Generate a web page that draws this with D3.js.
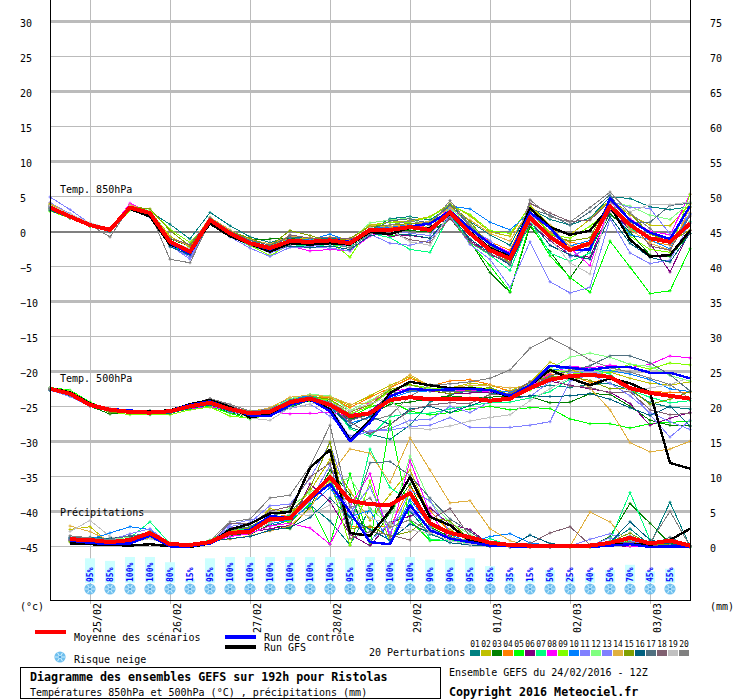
<!DOCTYPE html>
<html><head><meta charset="utf-8">
<script src="https://cdn.jsdelivr.net/npm/d3@7/dist/d3.min.js"></script>
<style>
html,body{margin:0;padding:0;background:#fff}
svg{display:block}
text{font-family:"DejaVu Sans Mono",monospace;font-size:10px;fill:#000}
.line{fill:none;stroke-linejoin:round}
</style></head><body>
<svg id="c" width="740" height="700"></svg>
<script>
const memberColors=["#008080","#c0c000","#008000","#ff8000","#00ff00","#800080","#00ff80","#ff00ff","#80ff00","#0080ff","#8080ff","#80ff80","#8080ff","#e0b040","#80a000","#006080","#507080","#806070","#c0c0c0","#808080"];
const memberLabels=["01","02","03","04","05","06","07","08","09","10","11","12","13","14","15","16","17","18","19","20"];
const dateLabels=["25/02","26/02","27/02","28/02","29/02","01/03","02/03","03/03"];
const leftTicks=[30,25,20,15,10,5,0,-5,-10,-15,-20,-25,-30,-35,-40,-45];
const snowPct=[95,85,100,100,80,15,95,100,100,100,100,100,100,95,100,100,100,90,90,95,65,35,15,50,25,40,50,70,45,55];

const t850_01=[3.8,2.4,1.1,0.2,3.4,2.9,1.1,-1.0,2.8,0.9,-0.7,-1.5,-0.7,-0.9,-0.9,-1.2,0.2,1.9,2.2,1.7,3.7,1.5,-0.4,-1.9,3.4,1.8,1.0,2.0,5.0,4.8,3.6,3.2,3.6];
const t850_02=[4.0,2.5,1.2,0.3,3.7,3.0,-0.6,-2.2,2.0,0.1,-1.2,-1.9,-0.9,-1.0,-0.7,-1.0,1.0,1.4,1.6,2.2,4.0,2.3,0.0,-0.6,3.8,0.9,-0.4,1.8,4.6,2.4,1.0,0.9,4.0];
const t850_03=[3.4,2.1,0.9,0.1,3.3,2.5,-1.0,-2.0,1.9,-0.1,-1.0,-1.0,-0.9,-1.3,-1.2,-1.5,0.2,0.5,0.2,0.0,1.9,-1.3,-5.8,-8.6,0.8,-2.8,-6.6,-2.5,2.6,0.0,-3.3,-3.5,-0.2];
const t850_04=[3.3,2.2,1.0,0.3,3.6,2.6,-1.7,-3.2,1.5,-0.4,-1.7,-2.5,-1.5,-1.3,-1.4,-1.7,0.5,0.6,1.0,0.6,3.2,0.7,-1.4,-2.6,3.0,-0.1,-1.5,-1.8,3.8,1.2,-1.3,-1.9,2.7];
const t850_05=[3.0,2.0,0.8,0.2,3.2,2.4,-1.9,-3.0,1.2,-0.6,-1.9,-2.6,-1.8,-1.7,-1.6,-2.0,0.0,-0.5,-0.4,-0.9,2.0,-1.6,-4.8,-8.5,1.2,-3.4,-6.5,-8.6,-1.3,-5.0,-8.8,-8.4,-2.4];
const t850_06=[3.7,2.3,1.1,0.4,3.5,2.7,-1.3,-2.6,1.6,-0.3,-1.5,-2.2,-1.0,-1.2,-1.0,-1.3,0.5,-0.6,-0.5,-0.9,2.2,-1.2,-3.2,-4.5,1.2,-1.2,-3.3,-3.6,3.1,0.4,-1.6,-5.7,0.2];
const t850_07=[3.2,2.0,0.9,0.2,3.3,2.6,-1.6,-3.0,1.4,-0.5,-2.0,-2.8,-1.8,-2.0,-1.8,-2.2,-0.2,-0.8,-2.5,-2.9,2.5,-1.5,-3.3,-5.5,1.6,-3.0,-4.2,-3.0,4.5,0.5,-0.8,-1.6,1.5];
const t850_08=[3.6,2.4,1.2,0.3,4.1,2.8,-1.2,-2.6,1.9,0.0,-1.4,-2.2,-2.0,-2.7,-2.5,-2.7,-0.6,0.5,0.9,0.6,3.5,1.0,-1.6,-2.9,2.4,-0.4,-2.3,-4.8,4.2,1.9,0.1,-0.4,5.4];
const t850_09=[3.0,2.0,0.9,0.1,3.1,3.1,0.4,-1.5,1.4,-0.6,-1.9,-3.4,-1.7,-1.0,-1.3,-3.6,0.8,1.4,1.4,2.1,3.9,2.5,0.2,-0.2,3.6,-0.3,-0.9,0.8,3.4,-0.6,-2.5,-2.9,5.4];
const t850_10=[3.5,2.1,1.0,0.2,3.4,2.6,-1.8,-3.6,1.6,-0.2,-1.6,-2.3,-1.0,-1.1,-0.3,-1.4,0.5,0.7,1.1,1.5,3.7,3.3,1.4,0.3,2.8,0.5,-2.0,-1.2,3.6,-0.4,-1.1,-2.4,2.6];
const t850_11=[5.0,3.2,1.2,0.2,3.2,2.1,-1.9,-3.9,1.3,-0.7,-2.3,-3.5,-2.2,-2.2,-2.3,-2.7,-0.3,-1.6,-1.9,-1.2,2.3,-1.8,-3.9,-7.9,-1.4,-7.1,-8.7,-7.9,1.9,-3.0,-4.5,-4.0,1.3];
const t850_12=[3.6,2.5,1.0,0.1,3.4,3.1,-0.9,-1.9,1.6,0.0,-1.4,-2.7,-1.4,-1.6,-1.0,-1.2,1.3,1.7,2.0,0.5,3.4,1.1,-1.9,-3.3,1.9,-0.7,-2.6,-1.9,4.3,3.7,2.4,1.8,4.2];
const t850_13=[4.2,2.6,1.3,0.4,3.8,2.6,-2.0,-3.6,1.4,-0.2,-1.8,-3.0,-2.0,-2.1,-1.6,-2.0,0.4,0.3,-0.2,-0.5,3.3,0.5,-1.2,-3.9,2.4,0.6,-3.6,-2.2,4.4,3.5,3.4,-0.3,2.5];
const t850_14=[4.1,2.5,1.2,0.4,3.9,2.9,-0.9,-2.0,2.1,0.3,-1.1,-1.7,-0.6,-0.8,-1.2,-1.1,0.9,0.8,1.2,1.5,3.5,1.7,-0.2,-1.3,3.3,1.0,-2.1,-2.0,3.9,0.4,-1.6,-2.6,3.5];
const t850_15=[3.9,2.3,1.1,0.3,3.6,3.3,0.2,-2.0,1.8,0.1,-0.9,-2.0,0.2,-0.5,-1.4,-0.9,0.8,1.0,1.2,1.3,4.0,1.5,-2.0,-4.4,3.1,-0.4,-1.3,-0.8,4.6,2.7,-0.3,-1.4,0.3];
const t850_16=[3.1,2.0,0.9,0.0,3.4,2.5,-2.1,-3.3,1.3,-0.5,-1.5,-2.6,-2.0,-2.2,-2.0,-2.5,-0.5,-0.2,-0.4,-0.9,2.5,-1.0,-3.0,-4.7,1.7,-1.9,-3.3,-3.9,2.2,-1.6,-3.6,-4.3,-0.2];
const t850_17=[3.4,2.2,1.0,0.2,3.5,2.7,-1.5,-3.0,2.0,0.1,-1.2,-1.9,-0.7,-1.3,-1.1,-1.5,0.1,1.6,1.9,1.2,3.9,0.9,-1.8,-3.9,3.3,2.4,1.0,2.9,5.3,1.4,1.4,3.8,4.1];
const t850_18=[3.6,2.3,1.0,0.1,3.5,2.5,-0.9,-1.8,1.8,-0.1,-1.5,-2.6,-0.4,-0.9,-0.8,-1.0,-0.2,0.0,-1.1,-1.5,2.0,-1.5,-3.1,-4.4,4.1,2.7,1.5,1.7,4.4,1.8,-2.0,-2.6,2.3];
const t850_19=[3.8,2.6,1.3,0.5,3.7,2.8,-1.3,-2.4,1.7,-0.1,-1.6,-2.3,-1.6,-1.2,-1.4,-1.9,0.6,0.4,-1.4,-1.9,2.9,0.3,-2.2,-3.7,1.5,-0.9,-4.4,-6.0,4.0,2.9,3.9,3.9,4.3];
const t850_20=[3.3,2.1,1.0,-0.7,3.5,2.7,-3.9,-4.4,1.5,-0.6,-1.9,-2.9,-1.8,-1.7,-1.5,-2.3,-0.2,1.0,1.6,0.9,4.5,1.0,-2.7,-4.5,4.6,2.2,1.4,3.5,5.7,2.7,0.5,-1.8,1.3];
const t850_ctrl=[3.6,2.3,1.0,0.3,3.6,2.6,-1.6,-3.1,1.6,-0.3,-1.7,-2.5,-1.2,-1.3,-1.1,-1.4,0.3,0.4,0.8,1.2,3.0,0.5,-1.7,-3.2,2.8,0.6,-2.6,-2.5,4.8,1.7,-0.1,-1.0,3.7];
const t850_gfs=[3.4,2.2,1.0,0.3,3.3,2.2,-1.8,-2.7,1.2,-0.6,-1.7,-2.8,-1.6,-1.8,-1.6,-1.8,0.0,-0.3,0.6,0.6,2.6,0.0,-2.3,-3.5,3.4,0.7,-0.4,0.2,3.7,-1.1,-3.5,-3.3,0.2];
const t850_mean=[3.5,2.2,1.0,0.3,3.5,2.7,-1.4,-2.8,1.7,-0.2,-1.6,-2.3,-1.3,-1.4,-1.2,-1.6,0.3,0.3,0.7,0.3,2.8,-0.2,-2.6,-3.8,2.1,-0.7,-2.6,-1.6,3.7,1.0,-0.9,-1.4,1.2];

const t500_01=[-22.5,-23.3,-24.8,-25.6,-25.6,-25.5,-25.8,-25.1,-24.6,-25.6,-26.2,-25.8,-24.6,-23.4,-25.0,-27.9,-28.9,-29.6,-27.6,-24.3,-23.3,-22.6,-23.0,-23.2,-22.4,-21.9,-22.2,-21.8,-21.6,-22.6,-24.4,-25.0,-25.3];
const t500_02=[-22.3,-22.9,-24.6,-25.3,-25.6,-25.7,-25.5,-24.7,-24.1,-25.0,-25.6,-25.2,-23.9,-23.3,-23.6,-24.8,-23.4,-21.9,-20.7,-21.9,-22.3,-21.6,-21.9,-22.7,-21.5,-18.6,-19.7,-20.4,-20.0,-20.9,-21.6,-21.9,-21.4];
const t500_03=[-22.6,-23.4,-24.9,-26.0,-25.8,-25.9,-25.9,-25.1,-24.7,-25.8,-26.4,-26.0,-24.9,-23.6,-24.2,-26.7,-26.1,-24.6,-24.3,-23.8,-23.4,-23.7,-23.6,-23.4,-23.5,-24.4,-24.3,-23.1,-23.2,-24.9,-26.9,-27.6,-27.7];
const t500_04=[-22.4,-23.2,-24.7,-25.4,-25.5,-25.6,-25.6,-24.7,-24.2,-25.1,-25.8,-25.3,-24.1,-23.6,-23.7,-25.1,-23.6,-22.3,-20.9,-22.0,-21.3,-21.1,-21.8,-22.8,-21.9,-20.4,-20.4,-21.5,-21.0,-22.2,-22.8,-22.9,-22.9];
const t500_05=[-22.2,-22.6,-24.3,-25.5,-25.9,-26.1,-25.7,-25.3,-24.9,-25.9,-26.7,-26.0,-24.9,-24.1,-24.6,-26.4,-25.0,-24.2,-25.6,-26.1,-25.8,-25.3,-24.9,-25.4,-25.1,-25.2,-26.7,-27.4,-27.4,-28.0,-27.4,-27.2,-27.0];
const t500_06=[-22.5,-23.2,-24.8,-25.6,-25.8,-25.8,-25.6,-24.8,-24.4,-25.3,-26.0,-25.7,-24.0,-23.6,-24.5,-27.0,-25.6,-23.3,-22.6,-22.7,-23.1,-23.0,-22.9,-23.2,-21.9,-21.3,-21.9,-22.4,-22.9,-24.5,-27.6,-26.6,-25.8];
const t500_07=[-22.3,-23.1,-24.6,-25.5,-25.9,-25.9,-25.8,-24.9,-24.6,-25.6,-26.3,-25.8,-24.3,-23.2,-24.3,-28.1,-29.2,-26.4,-25.9,-25.9,-25.3,-24.8,-24.4,-24.3,-23.7,-22.8,-21.0,-19.5,-20.3,-22.6,-23.6,-24.4,-24.1];
const t500_08=[-22.4,-23.0,-24.5,-25.3,-25.6,-25.7,-25.5,-25.2,-25.0,-25.4,-25.8,-25.7,-26.0,-25.9,-25.8,-26.3,-24.3,-22.9,-22.3,-22.5,-22.7,-22.6,-22.8,-23.4,-22.1,-20.2,-19.2,-19.4,-19.0,-19.4,-18.9,-17.7,-18.0];
const t500_09=[-22.2,-22.7,-24.4,-25.7,-26.1,-26.0,-26.1,-25.4,-25.0,-26.3,-26.6,-26.2,-24.7,-23.7,-24.0,-26.0,-24.9,-22.7,-21.8,-22.3,-22.5,-22.1,-22.4,-23.5,-22.6,-19.6,-20.1,-20.4,-20.0,-18.9,-19.6,-18.7,-19.0];
const t500_10=[-22.5,-23.2,-24.7,-25.5,-25.7,-25.8,-25.7,-25.0,-24.5,-25.2,-25.9,-25.3,-23.8,-23.4,-24.9,-27.3,-26.5,-23.8,-22.8,-22.7,-22.2,-22.3,-22.5,-22.9,-21.7,-19.8,-19.3,-19.6,-19.8,-20.3,-21.1,-22.4,-22.8];
const t500_11=[-22.6,-23.5,-24.9,-25.5,-25.7,-25.9,-25.7,-25.1,-24.7,-25.7,-26.3,-26.2,-25.2,-24.6,-26.3,-29.1,-28.5,-28.3,-27.8,-27.6,-26.5,-27.9,-27.9,-27.9,-27.6,-27.1,-21.3,-20.4,-21.6,-23.4,-25.8,-27.1,-28.2];
const t500_12=[-22.3,-22.8,-24.5,-25.4,-25.6,-25.8,-25.6,-24.8,-24.1,-25.2,-25.9,-25.4,-23.8,-23.2,-23.4,-25.5,-24.1,-22.5,-21.9,-22.4,-22.7,-22.3,-22.7,-23.2,-21.8,-19.5,-17.9,-17.3,-17.9,-18.9,-19.2,-20.5,-21.3];
const t500_13=[-22.4,-23.0,-24.7,-25.4,-25.8,-25.9,-25.7,-25.0,-24.4,-25.3,-26.1,-25.5,-24.4,-23.9,-24.9,-29.4,-28.4,-28.1,-26.9,-26.8,-24.9,-25.8,-24.2,-23.7,-23.5,-21.4,-20.1,-19.9,-20.6,-22.5,-26.1,-29.3,-26.9];
const t500_14=[-22.5,-23.1,-24.7,-25.3,-25.5,-25.7,-25.5,-24.6,-24.0,-25.2,-25.7,-25.1,-23.6,-23.3,-23.5,-24.6,-24.4,-22.2,-20.4,-22.0,-22.3,-21.9,-21.9,-22.3,-21.9,-20.0,-20.4,-22.3,-25.4,-30.1,-31.4,-31.0,-29.9];
const t500_15=[-22.4,-23.0,-24.6,-25.8,-25.7,-25.8,-25.9,-25.0,-24.6,-25.4,-26.1,-25.9,-24.2,-23.5,-23.9,-25.7,-24.7,-22.5,-21.8,-22.6,-23.1,-22.6,-22.2,-23.3,-21.4,-20.7,-20.7,-21.2,-22.4,-22.4,-24.6,-23.9,-22.8];
const t500_16=[-22.6,-23.3,-24.8,-25.6,-25.9,-26.0,-25.9,-25.2,-24.7,-25.6,-26.3,-26.0,-25.1,-24.0,-24.7,-27.7,-26.3,-27.5,-25.3,-24.9,-25.8,-24.8,-23.9,-23.8,-23.4,-23.5,-23.4,-23.1,-23.9,-25.1,-26.2,-24.9,-27.7];
const t500_17=[-22.3,-23.1,-24.6,-25.4,-25.7,-25.7,-25.6,-24.8,-24.3,-25.1,-25.9,-25.5,-24.0,-23.5,-24.4,-26.9,-26.1,-23.0,-22.7,-22.6,-22.8,-22.8,-22.5,-23.4,-22.2,-20.6,-19.8,-19.1,-17.7,-17.7,-18.7,-20.4,-22.7];
const t500_18=[-22.5,-23.2,-24.8,-25.5,-25.7,-25.8,-25.6,-24.7,-23.8,-24.8,-25.8,-25.5,-24.4,-24.0,-24.8,-27.2,-28.8,-27.5,-25.5,-24.7,-24.4,-24.5,-23.2,-23.1,-21.4,-20.9,-22.0,-22.2,-23.0,-22.8,-25.4,-26.1,-25.9];
const t500_19=[-22.2,-22.9,-24.6,-25.3,-25.5,-25.7,-25.5,-25.0,-24.4,-25.4,-26.6,-26.9,-25.1,-24.6,-24.3,-25.6,-24.5,-23.6,-28.0,-28.2,-27.7,-27.0,-26.5,-26.1,-24.1,-22.4,-20.8,-20.3,-20.9,-22.7,-22.3,-21.8,-20.8];
const t500_20=[-22.4,-23.0,-24.7,-25.6,-25.7,-25.8,-25.7,-24.8,-23.8,-24.6,-25.6,-25.3,-24.2,-23.7,-24.3,-26.0,-27.0,-26.2,-23.5,-21.8,-21.7,-21.4,-20.9,-19.7,-16.6,-15.1,-16.6,-18.3,-19.4,-20.0,-20.9,-21.8,-23.8];
const t500_ctrl=[-22.4,-23.0,-24.6,-25.3,-25.5,-25.7,-25.5,-24.7,-24.2,-25.2,-26.2,-26.3,-24.7,-23.9,-25.6,-29.9,-27.2,-23.5,-22.4,-22.6,-22.5,-22.4,-22.6,-23.4,-21.9,-19.1,-19.4,-19.7,-19.3,-19.3,-20.1,-20.1,-20.9];
const t500_gfs=[-22.3,-22.9,-24.5,-25.4,-25.6,-25.6,-25.5,-24.6,-24.0,-25.0,-26.5,-26.0,-24.5,-24.0,-25.3,-29.7,-26.9,-23.0,-21.4,-21.9,-22.3,-22.3,-22.6,-23.6,-21.9,-19.7,-20.9,-21.9,-20.9,-21.6,-22.9,-33.0,-33.8];
const t500_mean=[-22.4,-23.1,-24.7,-25.4,-25.7,-25.8,-25.6,-24.9,-24.4,-25.3,-25.9,-25.7,-24.3,-23.8,-24.7,-26.3,-25.9,-24.0,-23.6,-23.9,-23.9,-23.8,-24.1,-23.8,-22.3,-21.1,-20.6,-20.4,-20.7,-22.3,-23.0,-23.4,-23.8];

const rain_01=[1.1,1.4,1.2,1.6,1.8,.4,.1,.6,1.9,2.0,3.0,3.8,6.0,3.7,.3,5.5,3.1,5.1,1.8,.9,.7,.1,0,.1,0,.1,0,.8,2.6,.3,6.4,.1];
const rain_02=[2.5,2.9,.5,.7,1.3,.4,.2,.8,2.3,2.5,5.5,4.9,8.0,12.5,8.0,3.8,7.5,11.0,4.5,2.5,.8,.3,.1,0,.1,0,.3,.4,.9,.6,1.1,.1];
const rain_03=[1.0,.9,.6,.9,2.0,.5,.3,.6,1.7,1.8,3.2,2.6,5.8,11.0,7.5,.6,4.9,9.0,2.8,1.5,.6,.2,.1,.1,0,.1,.1,1.5,6.2,3.4,.5,.1];
const rain_04=[1.2,.8,.7,1.1,2.3,.3,.1,.7,2.2,2.4,4.2,4.6,7.3,9.2,3.0,2.8,2.9,8.6,5.2,2.2,.9,.4,.1,.1,.1,.1,.2,.6,.8,.3,.4,.1];
const rain_05=[1.0,1.2,.8,1.2,2.1,.5,.3,.8,2.4,2.8,4.0,3.5,6.2,.4,10.5,.3,18.0,3.8,.9,1.0,.5,.2,0,0,0,.1,0,.3,.9,.4,.1,0];
const rain_06=[.9,.8,.7,1.0,1.8,.4,.1,.5,2.8,2.1,2.6,3.1,9.0,6.5,1.8,.2,3.5,4.4,5.6,3.2,2.5,.3,.1,0,0,.1,.1,.2,.1,.2,.2,0];
const rain_07=[1.2,.9,.7,1.3,3.6,.5,.2,1.0,2.7,2.4,3.6,4.6,6.8,10.3,2.0,14.0,8.5,6.5,1.1,.9,.6,1.2,.2,.1,0,.1,.2,.9,7.8,1.0,.2,0];
const rain_08=[1.1,1.0,.8,.8,1.7,.3,.2,.6,1.5,1.9,3.0,3.4,2.7,.4,5.8,10.5,1.3,12.4,4.8,1.1,.7,.2,0,0,0,0,.2,.3,.1,.2,.1,.1];
const rain_09=[.8,.6,.9,1.0,1.9,.6,.4,.9,2.6,2.2,4.5,3.6,7.5,9.5,.2,9.5,.5,7.9,3.0,1.8,.5,.3,.1,0,.1,0,.1,.5,1.4,.2,.7,0];
const rain_10=[1.4,1.1,2.0,2.9,2.5,.3,.2,.7,2.0,2.3,3.3,3.9,5.9,8.5,4.3,5.2,.6,6.8,3.1,1.8,.6,1.5,1.9,.6,.2,.1,.1,.6,1.2,.3,.3,.1];
const rain_11=[1.0,.7,1.0,1.9,2.6,.4,.1,.6,2.9,3.5,5.9,6.1,9.8,14.8,6.0,.9,3.4,5.3,2.7,1.3,.5,.1,0,0,0,.1,.2,1.3,.4,.1,.2,0];
const rain_12=[1.3,1.1,1.0,1.4,2.2,.5,.2,.5,1.9,2.6,3.9,5.6,7.9,8.8,9.9,5.4,3.2,13.0,6.5,3.5,1.8,.4,.1,.1,0,0,.1,.4,1.0,.1,.1,0];
const rain_13=[1.2,.9,.6,1.1,1.8,.4,.1,.6,3.2,3.9,4.3,4.0,6.5,11.7,4.9,8.6,2.0,8.1,6.6,2.1,1.2,.3,.1,.1,0,.1,1.1,1.9,.8,.5,.2,.1];
const rain_14=[3.0,2.2,.9,.8,1.5,.4,.2,.9,1.1,1.6,2.3,3.0,5.5,10.2,14.0,13.4,9.2,15.6,11.0,6.3,6.6,2.6,.9,.1,.1,.1,5.0,3.6,.2,.3,.2,.1];
const rain_15=[.7,.5,.8,1.0,1.6,.3,.2,.5,2.5,2.7,3.7,4.4,8.4,15.0,2.6,3.0,1.5,2.2,4.2,3.7,1.0,.3,.1,.1,.1,0,.2,.7,2.0,.3,.3,.1];
const rain_16=[1.3,1.0,1.3,1.5,2.0,.4,.2,.8,1.2,1.5,2.4,2.8,4.2,7.0,4.2,2.5,1.0,3.3,2.0,.6,.3,.1,.1,1.7,.5,.2,.1,.6,3.6,1.0,.4,.1];
const rain_17=[1.4,1.3,1.1,1.6,1.9,.5,.3,.7,2.4,2.9,4.4,5.2,7.2,9.7,3.3,12.0,12.2,10.2,7.0,4.0,2.2,.3,.1,.1,.2,.1,.1,.5,.7,.2,1.4,.1];
const rain_18=[1.0,.9,.6,1.2,2.2,.4,.1,.6,3.4,3.3,5.1,5.8,10.0,12.0,1.2,2.2,1.7,1.0,3.9,5.5,1.5,.6,.1,.5,2.0,2.9,.3,.4,.6,.2,.2,.1];
const rain_19=[2.2,3.8,1.5,.6,1.2,.3,.2,.7,1.8,2.1,3.4,4.8,4.5,6.0,7.0,4.1,3.3,2.4,2.0,.9,.4,.3,.1,.1,.1,.1,.1,.3,.4,.1,.2,0];
const rain_20=[1.6,1.3,1.0,1.1,1.7,.5,.3,.9,3.6,4.0,7.0,7.4,11.5,17.4,5.6,7.0,2.8,3.9,2.2,1.4,.9,.1,.1,.1,0,.1,.1,.7,1.6,.6,5.1,.1];
const rain_ctrl=[.9,.6,.4,.5,1.6,.1,.1,.5,1.9,2.5,4.4,4.2,6.8,9.0,5.0,.7,.4,6.0,2.4,1.2,.7,.2,.1,0,0,0,0,.2,.4,0,.1,.1];
const rain_gfs=[.5,.4,.3,.2,.4,.1,0,.5,2.5,3.3,4.8,5.0,11.3,13.9,2.0,1.6,5.2,10.0,4.3,3.1,.9,.4,.1,0,.1,0,.1,.3,.4,.3,1.0,2.6];
const rain_mean=[1.1,1.0,.7,1.0,2.0,.4,.3,.7,2.0,2.2,4.0,4.1,7.1,10,6.6,6.1,6,7.7,3.4,2,1.4,.6,.3,.2,.2,.2,.2,.6,1.3,.5,.9,.2];

const t850Members=[t850_01,t850_02,t850_03,t850_04,t850_05,t850_06,t850_07,t850_08,t850_09,t850_10,t850_11,t850_12,t850_13,t850_14,t850_15,t850_16,t850_17,t850_18,t850_19,t850_20];
const t500Members=[t500_01,t500_02,t500_03,t500_04,t500_05,t500_06,t500_07,t500_08,t500_09,t500_10,t500_11,t500_12,t500_13,t500_14,t500_15,t500_16,t500_17,t500_18,t500_19,t500_20];
const rainMembers=[rain_01,rain_02,rain_03,rain_04,rain_05,rain_06,rain_07,rain_08,rain_09,rain_10,rain_11,rain_12,rain_13,rain_14,rain_15,rain_16,rain_17,rain_18,rain_19,rain_20];

const svg=d3.select("#c");
const x=d3.scaleLinear().domain([0,32]).range([50,690]);
const y=d3.scaleLinear().domain([-45,30]).range([546,21]);
const yR=d3.scaleLinear().domain([0,75]).range([546,21]);
const rainBase=v=>y(v-45);
const gridColor="#bbb";

const xTicks=dateLabels.map((_,i)=>2+i*4);
const gx=svg.append("g").attr("transform","translate(0,600)")
  .call(d3.axisBottom(x).tickValues(xTicks).tickFormat((d,i)=>dateLabels[i]).tickSize(4));
gx.select(".domain").remove();
gx.selectAll(".tick line").attr("y1",-600).attr("stroke",gridColor).attr("shape-rendering","crispEdges");
gx.selectAll(".tick text").attr("fill",null).attr("font-family",null).attr("font-size",null)
  .attr("text-anchor","end").attr("dy",null).attr("y",0)
  .attr("transform","translate(10,3) rotate(-90)");

const gl=svg.append("g").attr("transform","translate(50,0)")
  .call(d3.axisLeft(y).tickValues(leftTicks).tickSize(-640).tickPadding(0));
gl.select(".domain").remove();
gl.selectAll(".tick line")
  .attr("stroke",d=>d===0?"#808080":gridColor)
  .attr("stroke-width",d=>d===0?2:(d%10===0?2.6:1))
  .attr("shape-rendering","crispEdges");
gl.selectAll(".tick text").attr("font-family",null).attr("font-size",null)
  .attr("fill",null).attr("text-anchor","start").attr("x",-30).attr("dy",5.5);

const gr=svg.append("g").attr("transform","translate(690,0)")
  .call(d3.axisRight(yR).tickValues(d3.range(0,80,5)).tickSize(0).tickPadding(20));
gr.select(".domain").remove();
gr.selectAll(".tick text").attr("font-family",null).attr("font-size",null).attr("fill",null).attr("dy",5.5);

const snowX=i=>x(i+2);
const barH=d3.scaleLinear().domain([0,100]).range([0,26]);
const snow=svg.append("g");
snow.selectAll("rect").data(snowPct).join("rect")
  .attr("x",(d,i)=>snowX(i)-5).attr("width",10)
  .attr("y",d=>583-barH(d)).attr("height",d=>barH(d)).attr("fill","#ccffff");
snow.selectAll("text").data(snowPct).join("text")
  .text(d=>d+"%").attr("transform",(d,i)=>`translate(${snowX(i)+3},582) rotate(-90)`)
  .style("font-size","8px").style("fill","#0000ff").attr("font-weight","bold");
function flake(g,cx,cy){
  const f=g.append("g").attr("transform",`translate(${cx},${cy})`);
  f.append("circle").attr("r",5.6).attr("fill","#6fbfee");
  d3.range(0,180,60).forEach(a=>f.append("line").attr("x1",-5).attr("x2",5)
    .attr("transform",`rotate(${a})`).attr("stroke","#d8f4ff").attr("stroke-width",.9));
  f.append("circle").attr("r",1.1).attr("fill","#2f8fd8");
}
snowPct.forEach((d,i)=>flake(snow,snowX(i),589));

const marks=svg.append("g").attr("transform","translate(0,1)");
const line850=d3.line().x((d,i)=>x(i)).y(d=>y(d));
const lineRain=d3.line().x((d,i)=>x(i+1)).y(d=>rainBase(d));
const cross=d3.symbol().type(d3.symbolCross).size(5)();
function thin(vals,col,gen,xi){
  const g=marks.append("g");
  g.append("path").attr("class","line").attr("d",gen(vals)).attr("stroke",col)
    .attr("stroke-width",1).attr("shape-rendering","crispEdges");
  g.selectAll("path.pt").data(vals).join("path").attr("class","pt").attr("d",cross).attr("fill",col)
    .attr("transform",(d,i)=>`translate(${x(i+xi)},${xi?rainBase(d):y(d)})`);
}
function thick(vals,col,w,gen){
  marks.append("path").attr("class","line").attr("d",gen(vals)).attr("stroke",col).attr("stroke-width",w)
    .attr("shape-rendering","crispEdges");
}
t850Members.forEach((m,k)=>thin(m,memberColors[k],line850,0));
t500Members.forEach((m,k)=>thin(m,memberColors[k],line850,0));
rainMembers.forEach((m,k)=>thin(m,memberColors[k],lineRain,1));
[[t850_gfs,t850_ctrl,t850_mean,line850],[t500_gfs,t500_ctrl,t500_mean,line850],[rain_gfs,rain_ctrl,rain_mean,lineRain]]
 .forEach(([a,b,c,g])=>{thick(a,"#000",2.4,g);thick(b,"#0000ff",2.4,g);thick(c,"#ff0000",4,g);});

const frame=svg.append("g").attr("stroke","#000").attr("stroke-width",1).attr("shape-rendering","crispEdges");
frame.append("line").attr("x1",50.5).attr("x2",50.5).attr("y1",0).attr("y2",601);
frame.append("line").attr("x1",690.5).attr("x2",690.5).attr("y1",0).attr("y2",601);
frame.append("line").attr("x1",50).attr("x2",691).attr("y1",600.5).attr("y2",600.5);

const label=(t,px,py,o={})=>{const e=svg.append("text").attr("x",px).attr("y",py).text(t);
  if(o.b)e.attr("font-weight","bold");if(o.s)e.style("font-size",o.s+"px");return e;};
label("Temp. 850hPa",60,193);
label("Temp. 500hPa",60,382);
label("Précipitations",60,516);
label("(°c)",20,610);
label("(mm)",710,610);

const bar=(x0,y0,c)=>svg.append("rect").attr("x",x0).attr("y",y0).attr("width",31).attr("height",4).attr("fill",c);
bar(35,630,"#ff0000");
label("Moyenne des scénarios",74,641);
bar(225,635,"#0000ff");
label("Run de contrôle",264,641);
bar(225,645,"#000");
label("Run GFS",264,651);
flake(svg,60,657);
label("Risque neige",74,663);
label("20 Perturbations",369,656);
svg.append("g").selectAll("rect").data(memberColors).join("rect")
  .attr("x",(d,i)=>470+i*11).attr("y",650).attr("width",10).attr("height",6).attr("fill",d=>d);
svg.append("g").selectAll("text").data(memberLabels).join("text")
  .attr("x",(d,i)=>475+i*11).attr("y",647).attr("text-anchor","middle").text(d=>d)
  .style("font-size","8px");

svg.append("rect").attr("x",20.5).attr("y",667.5).attr("width",420).attr("height",31)
  .attr("fill","#fff").attr("stroke","#000").attr("shape-rendering","crispEdges");
label("Diagramme des ensembles GEFS sur 192h pour Ristolas",30,681,{b:1,s:11.65});
label("Températures 850hPa et 500hPa (°C) , précipitations (mm)",30,696);
label("Ensemble GEFS du 24/02/2016 - 12Z",449,676);
label("Copyright 2016 Meteociel.fr",449,696,{b:1,s:11.65});
</script></body></html>
